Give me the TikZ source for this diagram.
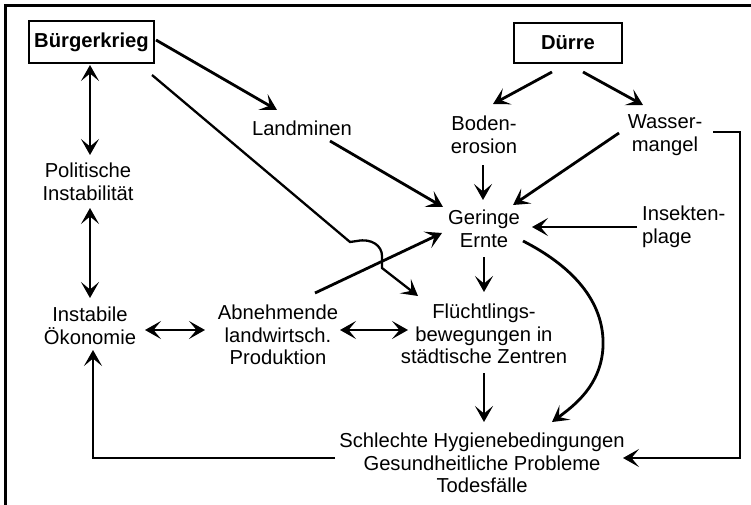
\documentclass[tikz,border=0pt]{standalone}
\usepackage{fontspec}
\setmainfont{Liberation Sans}
\usetikzlibrary{arrows.meta,calc}
\begin{document}
\begin{tikzpicture}[x=1pt,y=-1pt,
  txt/.style={align=center,inner sep=0pt,font=\fontsize{20.2}{22.5}\selectfont},
  boxnode/.style={draw,line width=2.8pt,inner sep=0pt,font=\fontsize{20.2}{22.5}\selectfont\bfseries},
  arr/.style={line width=2.8pt,-{Stealth[length=16pt,width=18pt,inset=7.5pt]}},
  darr/.style={line width=2.8pt,{Stealth[length=16pt,width=18pt,inset=7.5pt]}-{Stealth[length=16pt,width=18pt,inset=7.5pt]}},
  thinarr/.style={line width=2.3pt,-{Stealth[length=16pt,width=18pt,inset=7.5pt]}},
  frameline/.style={line width=3pt}]
\useasboundingbox (0,0) rectangle (751,505);
\draw[frameline] (751,5.5) -- (5.5,5.5) -- (5.5,505);

\node[boxnode,minimum width=125pt,minimum height=42pt] (bk) at (91.5,42) {Bürgerkrieg};
\node[boxnode,minimum width=108pt,minimum height=40pt] (du) at (568,43) {Dürre};
\node[txt] (land) at (302,128.5) {Landminen};
\node[txt] (pol) at (88,182) {Politische\\Instabilität};
\node[txt] (inst) at (90,326) {Instabile\\Ökonomie};
\node[txt] (abn) at (278,335) {Abnehmende\\landwirtsch.\\Produktion};
\node[txt] (fl) at (484,334) {Flüchtlings-\\bewegungen in\\städtische Zentren};
\node[txt] (ger) at (484,229) {Geringe\\Ernte};
\node[txt] (bod) at (484,135) {Boden-\\erosion};
\node[txt] (was) at (665,135) {Wasser-\\mangel};
\node[txt,align=left,anchor=west] (ins) at (642,227) {Insekten-\\plage};
\node[txt] (sch) at (482,463) {Schlechte Hygienebedingungen\\Gesundheitliche Probleme\\Todesfälle};

% connectors
\draw[arr] ($(bk)+(64.5,-2)$) -- ($(land)+(-25,-18.5)$);
\draw[darr] ($(bk)+(-1.5,23)$) -- ($(pol)+(2,-27)$);
\draw[darr] ($(pol)+(2,26)$) -- ($(inst)+(0,-28)$);
\draw[darr] ($(inst)+(55,4)$) -- ($(abn)+(-73,-5)$);
\draw[darr] ($(abn)+(62,-5)$) -- ($(fl)+(-76,-4)$);
\draw[arr] ($(du)+(-16,29)$) -- ($(bod)+(9,-31)$);
\draw[arr] ($(du)+(15,29)$) -- ($(was)+(-22,-30)$);
\draw[arr] ($(bod)+(-1,30)$) -- ($(ger)+(-1,-29)$);
\draw[arr] ($(was)+(-46,-2)$) -- ($(ger)+(29,-24)$);
\draw[arr] ($(land)+(28,12.5)$) -- ($(ger)+(-41,-22)$);
\draw[arr] ($(ins.west)+(-5,0)$) -- ($(ger)+(48,-2)$);
\draw[arr] ($(abn)+(37,-42)$) -- ($(ger)+(-42,4)$);
\draw[arr] ($(ger)+(0,28)$) -- ($(fl)+(0,-42)$);
\draw[arr] ($(fl)+(0,39)$) -- ($(sch)+(2,-41)$);
\draw[arr] ($(ger)+(39,12)$) .. controls ($(ger)+(86,36)$) and ($(ger)+(121,71)$) .. ($(ger)+(119,118)$)
  .. controls ($(ger)+(117,156)$) and ($(ger)+(91,176)$) .. ($(sch)+(70,-41)$);
\draw[arr] ($(was)+(48,-3)$) -| ($(sch)+(258,-5)$) -- ($(sch)+(141,-5)$);
\draw[arr] ($(sch)+(-147,-5)$) -| ($(inst)+(3,24)$);
\draw[thinarr] ($(bk)+(60.5,33)$) -- ($(fl)+(-134,-92)$) -- ($(fl)+(-127,-93)$)
  .. controls ($(fl)+(-112,-96)$) and ($(fl)+(-102,-88)$) .. ($(fl)+(-102,-78)$)
  -- ($(fl)+(-102,-66)$) -- ($(fl)+(-66,-38)$);
\end{tikzpicture}
\end{document}
